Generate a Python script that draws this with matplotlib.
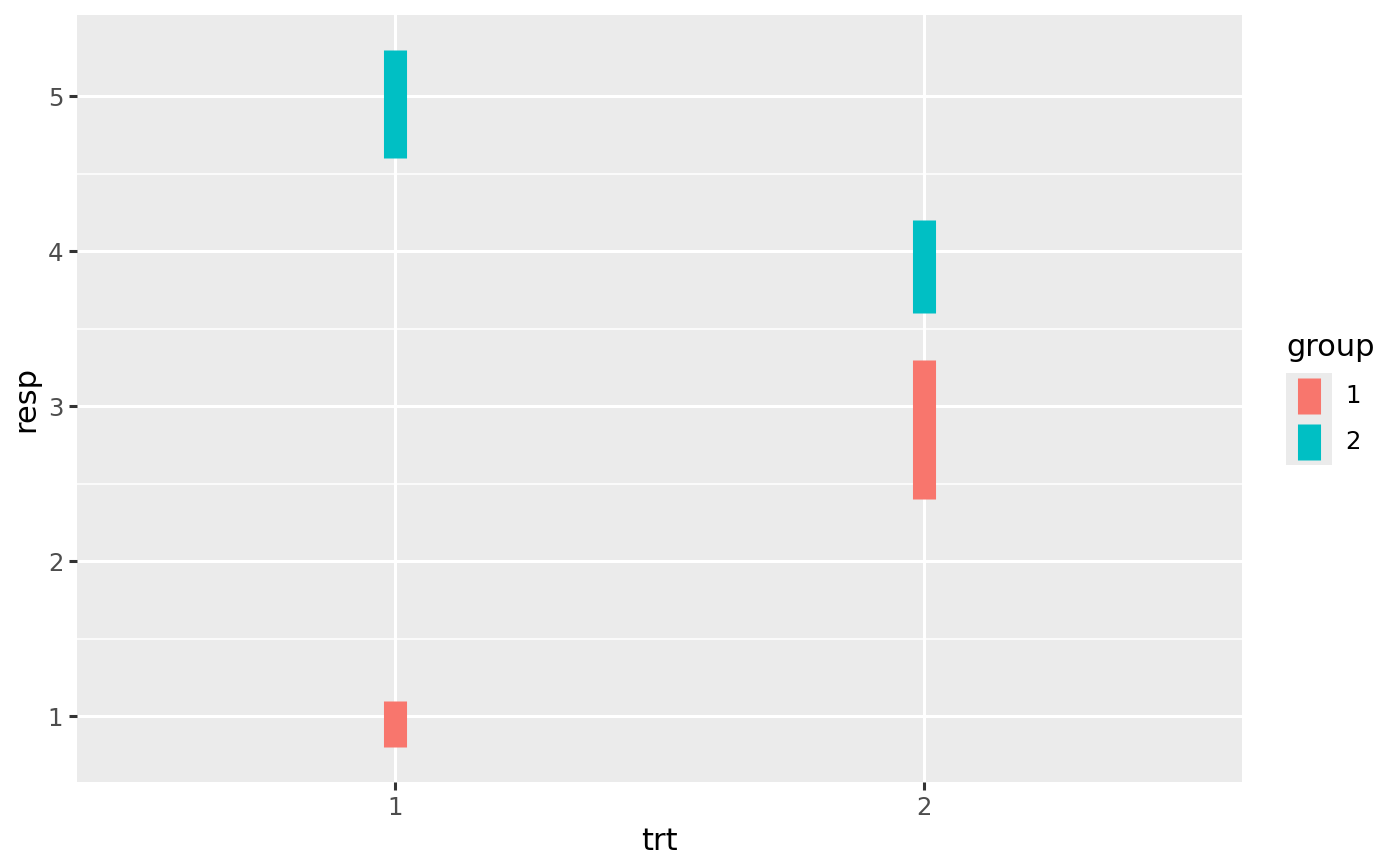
import matplotlib
matplotlib.use("Agg")
import matplotlib.pyplot as plt

trt = [1, 1, 2, 2]
group = ["1", "2", "1", "2"]
resp = [1, 5, 3, 4]
lower = [0.8, 4.6, 2.4, 3.6]
upper = [1.1, 5.3, 3.3, 4.2]
group_levels = ["1", "2"]
group_colors = {"1": "#F8766D", "2": "#00BFC4"}
x_ticks = [1, 2]
y_ticks = [1, 2, 3, 4, 5]
y_minor = [1.5, 2.5, 3.5, 4.5]

W, H = 1400, 866
fig = plt.figure(figsize=(7, 4.33), dpi=200)
ax = fig.add_axes([77 / W, 1 - 782 / H, (1242 - 77) / W, (782 - 15) / H])
ax.set_facecolor("#EBEBEB")
for s in ax.spines.values():
    s.set_visible(False)

lw_major = 1.1
for y in y_minor:
    ax.axhline(y, color="white", lw=lw_major / 2, zorder=0.5)
for y in y_ticks:
    ax.axhline(y, color="white", lw=lw_major, zorder=0.6)
for x in x_ticks:
    ax.axvline(x, color="white", lw=lw_major, zorder=0.6)

for t, g, lo, hi in zip(trt, group, lower, upper):
    ax.vlines(t, lo, hi, colors=group_colors[g], lw=8.3, zorder=2,
              capstyle="butt")

ymin, ymax = min(lower), max(upper)
pad = (ymax - ymin) * 0.05
ax.set_ylim(ymin - pad, ymax + pad)
ax.set_xlim(0.4, 2.6)
ax.set_xticks(x_ticks)
ax.set_xticklabels([str(v) for v in x_ticks])
ax.set_yticks(y_ticks)
ax.set_yticklabels([str(v) for v in y_ticks])
ax.tick_params(axis="both", which="major", length=2.75, width=lw_major,
               color="#333333", labelcolor="#4D4D4D", labelsize=8.8, pad=2.2)
ax.set_xlabel("trt", fontsize=11, color="black", labelpad=2.75)
ax.set_ylabel("resp", fontsize=11, color="black", labelpad=2.75)

# legend
fig.text(1286 / W, 1 - 347 / H, "group", fontsize=11, ha="left", va="center")
key_h = 46
for i, g in enumerate(group_levels):
    top = 373 + i * key_h
    kax = fig.add_axes([1286 / W, 1 - (top + key_h) / H, 46 / W, key_h / H])
    kax.set_xlim(0, 1)
    kax.set_ylim(0, 1)
    kax.axis("off")
    kax.add_patch(plt.Rectangle((0, 0), 1, 1, color="#EBEBEB", zorder=0))
    kax.vlines(0.5, 0.1, 0.9, colors=group_colors[g], lw=8.3, capstyle="butt")
    fig.text(1345 / W, 1 - (top + key_h / 2) / H, g, fontsize=8.8,
             ha="left", va="center")

fig.savefig("out.png", dpi=200)
